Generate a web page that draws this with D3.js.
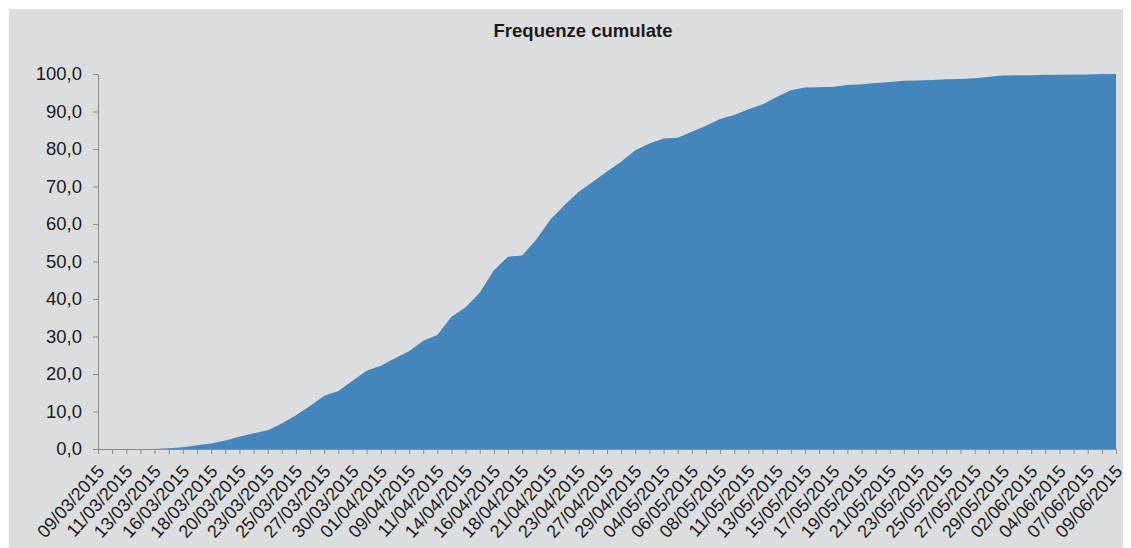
<!DOCTYPE html>
<html>
<head>
<meta charset="utf-8">
<script src="https://cdn.jsdelivr.net/npm/d3@7"></script>
<style>
    body { margin: 0; background: #ffffff; }
    svg { display: block; font-family: "Liberation Sans", Arial, sans-serif; }
</style>
</head>
<body>
<svg width="1131" height="548"></svg>
<script>
// tick labels on the category axis (Excel shows every second category)
const xLabels = [
    "09/03/2015", "11/03/2015", "13/03/2015", "16/03/2015", "18/03/2015", "20/03/2015",
    "23/03/2015", "25/03/2015", "27/03/2015", "30/03/2015", "01/04/2015", "09/04/2015",
    "11/04/2015", "14/04/2015", "16/04/2015", "18/04/2015", "21/04/2015", "23/04/2015",
    "27/04/2015", "29/04/2015", "04/05/2015", "06/05/2015", "08/05/2015", "11/05/2015",
    "13/05/2015", "15/05/2015", "17/05/2015", "19/05/2015", "21/05/2015", "23/05/2015",
    "25/05/2015", "27/05/2015", "29/05/2015", "02/06/2015", "04/06/2015", "07/06/2015",
    "09/06/2015"
];

// cumulative frequency (%) for every category
const cumulate = [
    0, 0, 0, 0, 0, 0.2, 0.5, 1.0, 1.5, 2.3,
    3.3, 4.2, 5.0, 6.8, 9.0, 11.5, 14.2, 15.5, 18.2, 20.9,
    22.2, 24.2, 26.1, 28.9, 30.4, 35.3, 37.8, 41.7, 47.7, 51.3,
    51.6, 55.9, 61.2, 65.1, 68.6, 71.3, 74.0, 76.6, 79.7, 81.5,
    82.8, 83.0, 84.6, 86.2, 88.0, 89.1, 90.6, 91.9, 93.9, 95.7,
    96.4, 96.5, 96.6, 97.1, 97.3, 97.6, 97.9, 98.2, 98.3, 98.4,
    98.6, 98.7, 98.9, 99.3, 99.6, 99.7, 99.7, 99.8, 99.8, 99.9,
    99.9, 100.0, 100.0
];

const yTicks = [0, 10, 20, 30, 40, 50, 60, 70, 80, 90, 100];

const svg = d3.select("svg");
const width = 1131, height = 548;

// chart background
svg.append("rect")
    .attr("x", 9).attr("y", 9)
    .attr("width", 1114).attr("height", height - 9)
    .attr("fill", "#dcdddf");

const x = d3.scaleLinear()
    .domain([0, cumulate.length - 1])
    .range([98, 1116]);

const y = d3.scaleLinear()
    .domain([0, 100])
    .range([449, 74]);

const area = d3.area()
    .x((d, i) => x(i))
    .y0(y(0))
    .y1(d => y(d));

svg.append("path")
    .datum(cumulate)
    .attr("fill", "#4486bb")
    .attr("d", area);

const fmt = v => v.toFixed(1).replace(".", ",");

// y axis
const yAxis = svg.append("g")
    .attr("transform", `translate(${x(0)},0)`)
    .call(d3.axisLeft(y).tickValues(yTicks).tickFormat(fmt).tickSize(5).tickSizeOuter(0).tickPadding(11));
yAxis.selectAll("line, path").attr("stroke", "#8a8a8a");
yAxis.selectAll("text")
    .attr("fill", "#1a1a1a")
    .style("font-size", "18.5px");

// x axis
const xAxis = svg.append("g")
    .attr("transform", `translate(0,${y(0)})`)
    .call(d3.axisBottom(x)
        .tickValues(d3.range(cumulate.length))
        .tickFormat(i => i % 2 === 0 ? xLabels[i / 2] : "")
        .tickSize(5).tickSizeOuter(0));
xAxis.selectAll("line, path").attr("stroke", "#8a8a8a");
xAxis.selectAll("text")
    .attr("fill", "#1a1a1a")
    .style("font-size", "18px")
    .attr("text-anchor", "end")
    .attr("dy", null)
    .attr("y", 0)
    .attr("transform", "translate(7,23) rotate(-48)");

// title
svg.append("text")
    .attr("x", 583).attr("y", 37)
    .attr("text-anchor", "middle")
    .style("font-size", "18.5px")
    .style("font-weight", "bold")
    .attr("fill", "#1a1a1a")
    .text("Frequenze cumulate");
</script>
</body>
</html>
